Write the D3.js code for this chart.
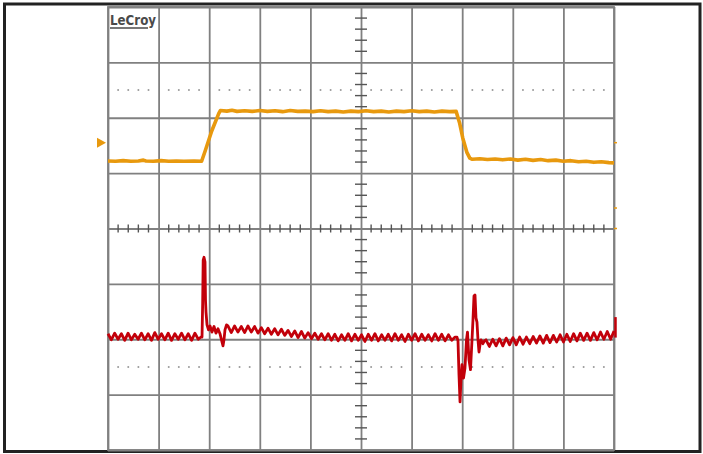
<!DOCTYPE html>
<html><head><meta charset="utf-8">
<script src="https://cdn.jsdelivr.net/npm/d3@7"></script>
<style>html,body{margin:0;padding:0;background:#fff;}svg{display:block;}</style>
</head><body>
<svg id="c" width="703" height="454"></svg>
<script>
// ---- data (time and amplitude in screen divisions) ----
const timeDomain = [0, 10];
const voltDomain = [-4, 4];
const brandLabel = "LeCroy";
const dottedRows = [2.5, -2.5];

// channel 1 (orange): [time, value]
const ch1Points = [[0,1.22],[0.15,1.215],[0.3,1.225],[0.45,1.215],[0.6,1.22],[0.7,1.235],[0.75,1.22],
  [0.9,1.215],[1.05,1.225],[1.2,1.215],[1.35,1.22],[1.5,1.215],[1.7,1.22],[1.85,1.215],
  [1.92,1.40],[2.05,1.76],[2.19,2.08],[2.22,2.13],[2.35,2.12],[2.45,2.135],[2.55,2.115],[2.7,2.125],
  [2.85,2.115],[3.0,2.13],[3.15,2.115],[3.3,2.125],[3.45,2.11],[3.6,2.13],[3.75,2.115],[3.9,2.12],
  [4.05,2.11],[4.2,2.125],[4.35,2.11],[4.5,2.12],[4.65,2.105],[4.8,2.12],[4.95,2.11],[5.1,2.125],
  [5.25,2.11],[5.4,2.12],[5.55,2.105],[5.7,2.12],[5.85,2.11],[6.0,2.125],[6.15,2.11],[6.3,2.12],
  [6.45,2.105],[6.6,2.12],[6.75,2.11],[6.88,2.115],
  [6.95,1.90],[7.01,1.64],[7.09,1.38],[7.15,1.27],[7.2,1.25],[7.35,1.26],[7.5,1.245],[7.65,1.255],
  [7.8,1.24],[7.95,1.255],[8.1,1.235],[8.25,1.25],[8.4,1.23],[8.55,1.245],[8.7,1.225],[8.85,1.235],
  [9.0,1.215],[9.15,1.225],[9.3,1.205],[9.45,1.215],[9.6,1.195],[9.75,1.205],[9.9,1.19],[10,1.185]];

// channel 2 (red): ripple segments sampled evenly between start/end times
const ch2PreSpan = [0, 1.85];
const ch2Pre = [-1.90,-2.01,-1.89,-2.00,-1.90,-2.02,-1.89,-2.01,-1.91,-2.00,-1.89,-2.01,-1.90,-2.02,
  -1.88,-2.00,-1.90,-2.01,-1.89,-2.02,-1.90,-2.00,-1.89,-2.01,-1.90,-2.02,-1.89,-2.00,-1.95];
const ch2Spike = [[1.858,-1.96],[1.871,-1.35],[1.881,-0.57],[1.897,-0.52],[1.917,-0.60],[1.927,-1.29],
  [1.937,-1.51],[1.957,-1.74],[1.986,-1.83],[2.016,-1.76],[2.055,-1.87],[2.095,-1.77],[2.134,-1.89],
  [2.174,-1.81],[2.213,-1.90],[2.243,-2.01],[2.273,-2.12],[2.292,-2.01],[2.312,-1.83],[2.342,-1.74]];
const ch2MidSpan = [2.37, 6.86];
const ch2Mid = [-1.76,-1.88,-1.76,-1.87,-1.77,-1.88,-1.76,-1.87,-1.77,-1.89,
  -1.79,-1.90,-1.80,-1.91,-1.81,-1.92,-1.82,-1.93,-1.84,-1.95,
  -1.85,-1.97,-1.86,-1.98,-1.88,-1.99,-1.89,-2.00,-1.90,-2.01,-1.90,-2.02,
  -1.91,-2.03,-1.92,-2.02,-1.90,-2.03,-1.91,-2.02,-1.92,-2.04,-1.91,-2.02,-1.90,-2.03,-1.92,-2.02,
  -1.91,-2.03,-1.90,-2.02,-1.92,-2.04,-1.91,-2.02,-1.90,-2.03,-1.91,-2.02,-1.92,-2.03,-1.90,-2.02,
  -1.91,-2.03,-1.92,-2.02,-1.96];
const ch2Drop = [[6.897,-1.96],[6.917,-2.03],[6.937,-2.65],[6.957,-3.13],[6.976,-2.73],[6.996,-2.46],
  [7.026,-2.70],[7.055,-2.52],[7.085,-2.01],[7.105,-1.87],[7.134,-2.37],[7.164,-2.55],[7.194,-2.01],
  [7.213,-1.65],[7.233,-1.22],[7.253,-1.20],[7.273,-1.62],[7.292,-1.69],[7.312,-2.01],[7.332,-2.23],
  [7.352,-2.10],[7.372,-2.01],[7.41,-2.08],[7.44,-2.03]];
const ch2PostSpan = [7.47, 10];
const ch2Post = [-2.01,-2.13,-2.00,-2.12,-1.99,-2.12,-1.98,-2.10,-1.97,-2.10,-1.96,-2.09,-1.96,-2.08,
  -1.95,-2.07,-1.94,-2.07,-1.93,-2.06,-1.93,-2.05,-1.92,-2.05,-1.91,-2.04,-1.90,-2.03,-1.89,-2.02,
  -1.89,-2.02,-1.88,-2.01,-1.87,-2.00,-1.86,-2.00,-1.85];

// ---- drawing ----
const svg = d3.select("#c");
const x = d3.scaleLinear().domain(timeDomain).range([108, 614]);
const y = d3.scaleLinear().domain(voltDomain).range([450, 7]);
const gridColor = "#808080";

// outer frame
svg.append("rect").attr("x", 4.5).attr("y", 4).attr("width", 695.5).attr("height", 447.5)
  .attr("fill", "#fff").attr("stroke", "#222").attr("stroke-width", 3);

const plot = svg.append("g");

// grid via axes
const gx = plot.append("g").attr("transform", `translate(0,${y(-4)})`)
  .call(d3.axisBottom(x).ticks(10).tickSize(-(y(-4) - y(4))).tickFormat(""));
const gy = plot.append("g").attr("transform", `translate(${x(0)},0)`)
  .call(d3.axisLeft(y).ticks(8).tickSize(-(x(10) - x(0))).tickFormat(""));
[gx, gy].forEach(g => {
  g.select(".domain").remove();
  g.selectAll("line").attr("stroke", gridColor).attr("stroke-width", 1.8);
});
plot.append("rect").attr("x", x(0)).attr("y", y(4)).attr("width", x(10) - x(0)).attr("height", y(-4) - y(4))
  .attr("fill", "none").attr("stroke", gridColor).attr("stroke-width", 1.8);

// dotted rows
const dotTimes = d3.range(0, 50).filter(i => i % 5 !== 0).map(i => i / 5);
dottedRows.forEach(v => {
  plot.append("g").selectAll("circle").data(dotTimes).join("circle")
    .attr("cx", d => x(d)).attr("cy", y(v)).attr("r", 1).attr("fill", "#9a9a9a");
});

// centre cross minor ticks
const hTicks = d3.range(1, 50).filter(i => i % 5 !== 0).map(i => i / 5);
plot.append("g").selectAll("line").data(hTicks).join("line")
  .attr("x1", d => x(d)).attr("x2", d => x(d)).attr("y1", y(0) - 4).attr("y2", y(0) + 4)
  .attr("stroke", "#555").attr("stroke-width", 1.4);
const vTicks = d3.range(-19, 20).filter(i => i % 5 !== 0).map(i => i / 5);
plot.append("g").selectAll("line").data(vTicks).join("line")
  .attr("x1", x(5) - 6).attr("x2", x(5) + 6).attr("y1", d => y(d)).attr("y2", d => y(d))
  .attr("stroke", "#555").attr("stroke-width", 1.4);

// brand label
svg.append("text").attr("x", 110).attr("y", 25).text(brandLabel)
  .attr("font-family", "DejaVu Sans Condensed, DejaVu Sans").attr("font-weight", "bold")
  .attr("font-size", 14).attr("fill", "#4a4a4a").attr("textLength", 46).attr("lengthAdjust", "spacingAndGlyphs");
svg.append("line").attr("x1", 110).attr("x2", 148).attr("y1", 28).attr("y2", 28)
  .attr("stroke", "#4a4a4a").attr("stroke-width", 1.5);

// traces
const line = d3.line().x(d => x(d[0])).y(d => y(d[1]));
const spread = (vals, span) => {
  const ts = d3.scaleLinear().domain([0, vals.length - 1]).range(span);
  return vals.map((v, i) => [ts(i), v]);
};
const ch2All = [].concat(spread(ch2Pre, ch2PreSpan), ch2Spike, spread(ch2Mid, ch2MidSpan), ch2Drop, spread(ch2Post, ch2PostSpan));

const orange = "#e8990e", red = "#c2000a";
plot.append("path").datum(ch1Points).attr("d", line).attr("fill", "none")
  .attr("stroke", orange).attr("stroke-width", 3.6).attr("stroke-linejoin", "round");
plot.append("path").datum(ch2All).attr("d", line).attr("fill", "none")
  .attr("stroke", red).attr("stroke-width", 2.8).attr("stroke-linejoin", "round");

// markers
svg.append("path").attr("d", `M97,${y(1.55) - 5}L106,${y(1.55)}L97,${y(1.55) + 5}Z`).attr("fill", orange);
[1.55, 0.37, 0].forEach(v => svg.append("line").attr("x1", 614).attr("x2", 617)
  .attr("y1", y(v)).attr("y2", y(v)).attr("stroke", orange).attr("stroke-width", 1.5));
svg.append("line").attr("x1", 615.5).attr("x2", 615.5).attr("y1", y(-1.6)).attr("y2", y(-1.97))
  .attr("stroke", red).attr("stroke-width", 2.5);
</script>
</body></html>
